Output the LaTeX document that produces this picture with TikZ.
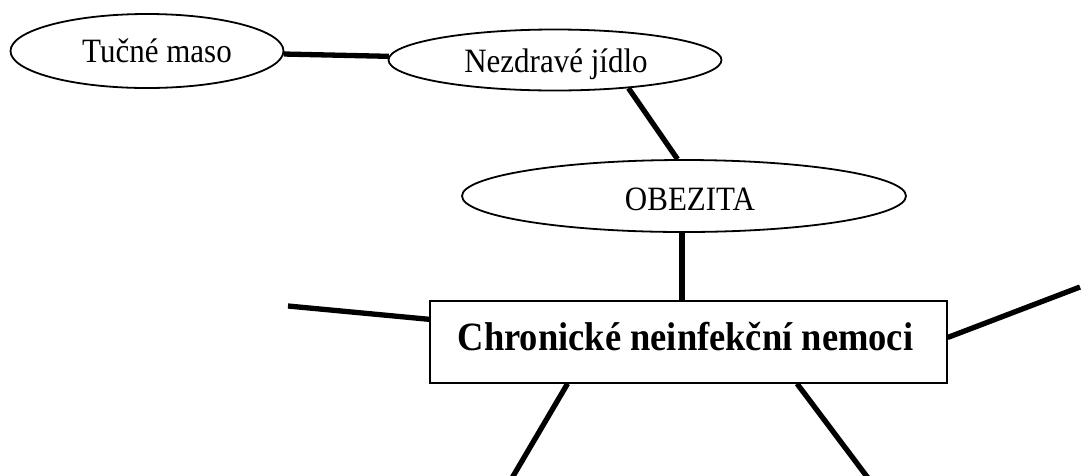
\documentclass[tikz,border=0pt]{standalone}
\usepackage{fontspec}
\setmainfont{Liberation Serif}
\usetikzlibrary{shapes.geometric,calc}
\newcommand{\tallText}[1]{\scalebox{1}[1.1]{#1}}
\begin{document}
\begin{tikzpicture}[x=1pt,y=-1pt,
  oval/.style={draw, ellipse, line width=1.8pt, inner sep=0pt},
  ovaltext/.style={font=\fontsize{31}{36}\selectfont, inner sep=0pt},
  box/.style={draw, rectangle, line width=1.3pt, inner sep=0pt},
  boxtext/.style={font=\bfseries\fontsize{36.5}{42}\selectfont, inner sep=0pt},
  conn/.style={line width=5.3pt}]
\useasboundingbox (0,0) rectangle (1081,475);
\node[oval, minimum width=273pt, minimum height=74pt,
      label={[ovaltext, xshift=10pt, yshift=0pt]center:\tallText{Tučné maso}}] (T) at (147,51) {};
\node[oval, minimum width=333pt, minimum height=61pt,
      label={[ovaltext, xshift=1pt, yshift=-4pt]center:\tallText{Nezdravé jídlo}}] (N) at (555,60) {};
\node[oval, minimum width=444pt, minimum height=72pt,
      label={[ovaltext, xshift=6pt, yshift=-3pt]center:\tallText{OBEZITA}}] (O) at (684,196) {};
\node[box, minimum width=517pt, minimum height=82pt,
      label={[boxtext, xshift=-3pt, yshift=5pt]center:\tallText{Chronické neinfekční nemoci}}] (R) at (688.5,342) {};
\coordinate (L) at (288,306);
\coordinate (Q) at (1080,287);
\coordinate (BL) at (512,478);
\coordinate (BR) at (868,478);
\draw[conn] (T) -- (N);
\draw[conn] (N.-21) -- (O.100);
\draw[conn] ($(O.south)+(-2,0)$) -- ($(O.south |- R.north)+(-2,0)$);
\draw[conn] (L) -- (R.175.6);
\draw[conn] (R.1) -- (Q);
\draw[conn] (R.-161.8) -- (BL);
\draw[conn] (R.-21.3) -- (BR);
\end{tikzpicture}
\end{document}
